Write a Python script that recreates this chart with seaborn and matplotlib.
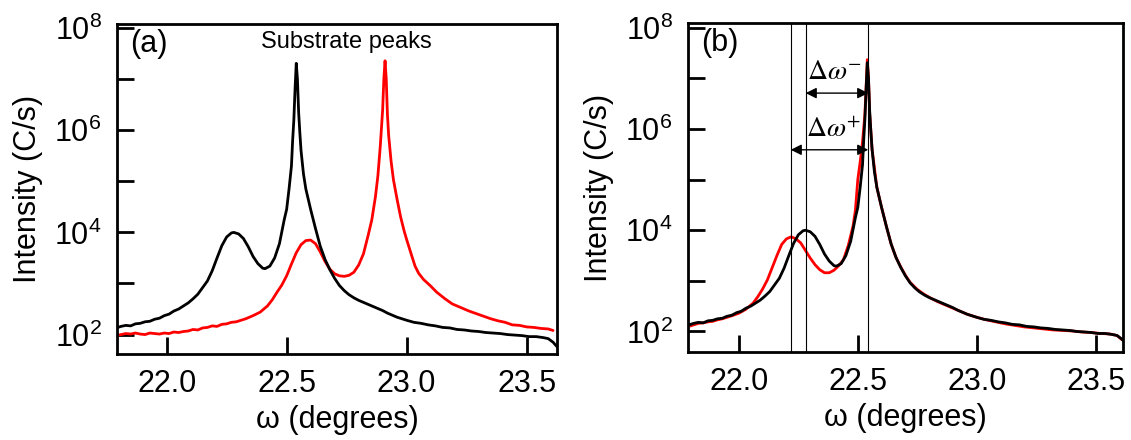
import numpy as np
import pandas as pd
import matplotlib
matplotlib.use("Agg")
import matplotlib.pyplot as plt
import seaborn as sns

# black scan (same in both panels): omega (deg), log10 intensity (C/s)
black_x = [21.79, 21.81, 21.83, 21.85, 21.87, 21.89, 21.91, 21.93, 21.95, 21.97,
           21.99, 22.01, 22.03, 22.05, 22.07, 22.09, 22.11, 22.13, 22.15, 22.17,
           22.19, 22.21, 22.23, 22.25, 22.27, 22.28, 22.30, 22.32, 22.34, 22.36,
           22.38, 22.40, 22.41, 22.43, 22.45, 22.47, 22.49, 22.50, 22.51, 22.52,
           22.525, 22.53, 22.535, 22.54, 22.545, 22.55, 22.555, 22.56, 22.57, 22.58,
           22.60, 22.62, 22.64, 22.66, 22.68, 22.70, 22.72, 22.74, 22.76, 22.78,
           22.80, 22.82, 22.84, 22.86, 22.88, 22.90, 22.92, 22.94, 22.96, 22.98,
           23.00, 23.03, 23.06, 23.09, 23.12, 23.15, 23.18, 23.21, 23.24, 23.27,
           23.30, 23.33, 23.36, 23.39, 23.42, 23.45, 23.48, 23.51, 23.54, 23.57,
           23.59, 23.61, 23.625]
black_logI = [2.13, 2.16, 2.18, 2.17, 2.21, 2.22, 2.25, 2.26, 2.30, 2.32,
              2.37, 2.40, 2.46, 2.50, 2.56, 2.62, 2.70, 2.79, 2.92, 3.05,
              3.25, 3.50, 3.74, 3.91, 3.99, 4.00, 3.97, 3.88, 3.72, 3.53,
              3.39, 3.30, 3.29, 3.34, 3.50, 3.78, 4.25, 4.45, 4.85, 5.30,
              5.80, 6.20, 6.80, 7.31, 7.00, 6.35, 5.95, 5.60, 5.15, 4.85,
              4.45, 4.08, 3.73, 3.47, 3.27, 3.10, 2.96, 2.86, 2.78, 2.72,
              2.67, 2.63, 2.59, 2.55, 2.51, 2.47, 2.42, 2.38, 2.34, 2.31,
              2.28, 2.24, 2.22, 2.19, 2.17, 2.14, 2.13, 2.10, 2.09, 2.07,
              2.06, 2.04, 2.03, 2.02, 2.00, 1.99, 1.98, 1.96, 1.96, 1.94,
              1.92, 1.85, 1.77]

# red scan, panel (a)
red_a_x = [21.79, 21.81, 21.83, 21.85, 21.87, 21.89, 21.91, 21.93, 21.95, 21.97,
           21.99, 22.01, 22.03, 22.05, 22.07, 22.09, 22.11, 22.13, 22.15, 22.17,
           22.19, 22.21, 22.23, 22.25, 22.27, 22.29, 22.31, 22.33, 22.36, 22.39,
           22.42, 22.44, 22.46, 22.48, 22.50, 22.52, 22.54, 22.56, 22.58, 22.60,
           22.62, 22.64, 22.66, 22.68, 22.70, 22.72, 22.74, 22.76, 22.78, 22.80,
           22.82, 22.84, 22.855, 22.87, 22.88, 22.89, 22.90, 22.905, 22.91, 22.915,
           22.92, 22.925, 22.935, 22.945, 22.96, 22.975, 22.99, 23.00, 23.02, 23.035,
           23.05, 23.07, 23.10, 23.125, 23.16, 23.19, 23.23, 23.26, 23.29, 23.32,
           23.35, 23.38, 23.41, 23.44, 23.47, 23.50, 23.53, 23.56, 23.59, 23.61]
red_a_logI = [1.98, 2.00, 2.02, 2.01, 2.03, 2.01, 2.00, 2.03, 2.02, 2.01,
              2.03, 2.02, 2.05, 2.04, 2.06, 2.07, 2.10, 2.09, 2.13, 2.14,
              2.17, 2.16, 2.20, 2.21, 2.24, 2.25, 2.28, 2.31, 2.37, 2.44,
              2.56, 2.68, 2.83, 2.97, 3.15, 3.38, 3.60, 3.76, 3.84, 3.85,
              3.78, 3.62, 3.43, 3.28, 3.19, 3.15, 3.14, 3.16, 3.22, 3.36,
              3.58, 3.95, 4.25, 4.70, 5.10, 5.68, 6.40, 7.00, 7.36, 7.00,
              6.30, 5.90, 5.40, 5.03, 4.65, 4.30, 4.02, 3.86, 3.56, 3.34,
              3.20, 3.08, 2.95, 2.83, 2.70, 2.60, 2.52, 2.46, 2.41, 2.36,
              2.31, 2.27, 2.24, 2.19, 2.18, 2.15, 2.14, 2.12, 2.11, 2.08]

# red scan, panel (b)
red_b_x = [21.79, 21.81, 21.83, 21.85, 21.87, 21.89, 21.91, 21.93, 21.95, 21.97,
           22.00, 22.03, 22.06, 22.08, 22.10, 22.12, 22.14, 22.16, 22.18, 22.20,
           22.22, 22.24, 22.26, 22.28, 22.30, 22.32, 22.34, 22.36, 22.38, 22.40,
           22.42, 22.44, 22.46, 22.48, 22.49, 22.50, 22.51, 22.52, 22.53, 22.54,
           22.545, 22.55, 22.56, 22.58, 22.60, 22.62, 22.64, 22.66, 22.68, 22.70,
           22.72, 22.75, 22.78, 22.81, 22.84, 22.87, 22.90, 22.93, 22.96, 23.00,
           23.04, 23.08, 23.12, 23.16, 23.20, 23.24, 23.28, 23.32, 23.36, 23.40,
           23.44, 23.48, 23.52, 23.56, 23.59, 23.61]
red_b_logI = [2.10, 2.13, 2.16, 2.17, 2.19, 2.20, 2.23, 2.25, 2.28, 2.31,
              2.36, 2.44, 2.56, 2.69, 2.84, 3.02, 3.26, 3.50, 3.72, 3.83,
              3.87, 3.83, 3.75, 3.60, 3.45, 3.32, 3.22, 3.16, 3.16, 3.21,
              3.30, 3.42, 3.70, 4.08, 4.40, 5.00, 5.35, 5.75, 6.30, 7.37,
              7.00, 6.30, 5.60, 4.85, 4.45, 4.08, 3.73, 3.47, 3.28, 3.11,
              2.97, 2.83, 2.73, 2.65, 2.58, 2.52, 2.46, 2.40, 2.34, 2.28,
              2.23, 2.19, 2.15, 2.12, 2.09, 2.07, 2.05, 2.03, 2.02, 2.01,
              1.99, 1.98, 1.96, 1.95, 1.92, 1.84]

line_pos = [22.218, 22.281, 22.544]
xticks = [22.0, 22.5, 23.0, 23.5]
ytick_exp = [2, 3, 4, 5, 6, 7, 8]

sns.set_theme(style="ticks")
plt.rcParams["font.family"] = ["Liberation Sans", "DejaVu Sans"]
plt.rcParams["mathtext.fontset"] = "stix"
for key in ["text.color", "axes.labelcolor", "xtick.color", "ytick.color", "axes.edgecolor"]:
    plt.rcParams[key] = "black"

fig = plt.figure(figsize=(11.31, 4.4), dpi=100)
ax_a = fig.add_axes([0.1034, 0.1955, 0.389, 0.750])
ax_b = fig.add_axes([0.6083, 0.2007, 0.3846, 0.7464])


def scan(x, logI):
    return pd.DataFrame({"omega": x, "I": np.power(10.0, logI)})


def style(ax, xlim, ylim):
    ax.set_yscale("log")
    ax.set_xlim(*xlim)
    ax.set_ylim(*ylim)
    ax.set_xticks(xticks)
    ax.set_xticklabels([f"{t:.1f}" for t in xticks])
    ax.set_yticks([10.0 ** e for e in ytick_exp])
    ax.set_yticklabels([r"$\mathregular{10^{%d}}$" % e if e % 2 == 0 else "" for e in ytick_exp])
    ax.minorticks_off()
    ax.tick_params(direction="in", length=12, width=2, labelsize=22, pad=11)
    for s in ax.spines.values():
        s.set_linewidth(2)
    ax.set_xlabel("ω (degrees)", fontsize=22, labelpad=4)
    ax.set_ylabel("Intensity (C/s)", fontsize=22, labelpad=8)


# panel (a)
sns.lineplot(data=scan(red_a_x, red_a_logI), x="omega", y="I", ax=ax_a,
             color="#ff0000", linewidth=2.0, estimator=None)
sns.lineplot(data=scan(black_x, black_logI), x="omega", y="I", ax=ax_a,
             color="black", linewidth=2.0, estimator=None)
style(ax_a, (21.793, 23.626), (10 ** 1.62, 10 ** 8.08))
ax_a.text(0.03, 0.985, "(a)", transform=ax_a.transAxes, fontsize=22, va="top", ha="left")
ax_a.text(22.75, 10 ** 7.72, "Substrate peaks", fontsize=17, ha="center", va="center")

# panel (b)
sns.lineplot(data=scan(red_b_x, red_b_logI), x="omega", y="I", ax=ax_b,
             color="#ff0000", linewidth=2.0, estimator=None)
sns.lineplot(data=scan(black_x, black_logI), x="omega", y="I", ax=ax_b,
             color="black", linewidth=2.0, estimator=None)
style(ax_b, (21.786, 23.615), (10 ** 1.6, 10 ** 8.09))
ax_b.text(0.03, 0.985, "(b)", transform=ax_b.transAxes, fontsize=22, va="top", ha="left")
for xv in line_pos:
    ax_b.axvline(xv, color="black", linewidth=0.8)

ax_b.annotate("", xy=(line_pos[2], 10 ** 6.71), xytext=(line_pos[1], 10 ** 6.71),
              arrowprops=dict(arrowstyle="<|-|>", color="black", lw=1, mutation_scale=16,
                              shrinkA=0, shrinkB=0))
ax_b.annotate("", xy=(line_pos[2], 10 ** 5.59), xytext=(line_pos[0], 10 ** 5.59),
              arrowprops=dict(arrowstyle="<|-|>", color="black", lw=1, mutation_scale=16,
                              shrinkA=0, shrinkB=0))
ax_b.text(22.40, 10 ** 7.13, r"$\Delta\omega^{-}$", fontsize=20, ha="center", va="center")
ax_b.text(22.40, 10 ** 5.99, r"$\Delta\omega^{+}$", fontsize=20, ha="center", va="center")

fig.savefig("out.png", dpi=100)
